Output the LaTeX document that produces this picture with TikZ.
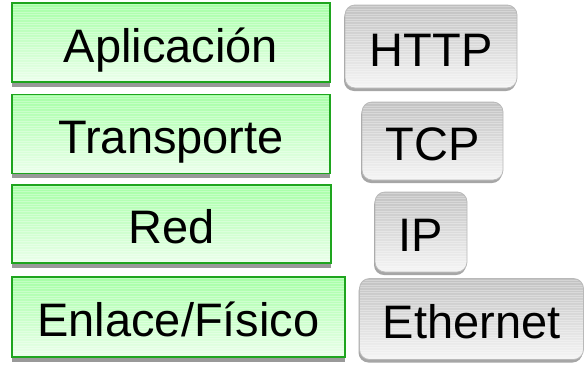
\documentclass[tikz,border=0pt]{standalone}
\usepackage{fontspec}
\setmainfont{Liberation Sans}
\usetikzlibrary{shadows}
\definecolor{layergreen}{RGB}{30,165,30}
\definecolor{protoedge}{RGB}{185,185,185}
\begin{document}
\begin{tikzpicture}[x=1pt,y=-1pt]
    \tikzstyle{stripes}=[path picture={\foreach \k in {1.5,4,...,90}
      \draw[white, opacity=0.3, line width=0.7pt] ([yshift=-\k pt]path picture bounding box.north west) -- ([yshift=-\k pt]path picture bounding box.north east);}]
    \tikzstyle{layer}=[draw=layergreen, line width=1.2pt, top color=green!35!white, bottom color=green!8!white, stripes,
      minimum height=79pt, inner sep=0pt, font=\fontsize{47}{50}\selectfont, text height=39pt, text depth=0pt,
      drop shadow={shadow xshift=0pt, shadow yshift=-4.5pt, fill=black!40, opacity=1}]
    \tikzstyle{proto}=[draw=protoedge, line width=0.8pt, rounded corners=10pt, top color=black!24, bottom color=black!4, stripes,
      minimum height=80pt, inner sep=0pt, font=\fontsize{47}{50}\selectfont, text height=39pt, text depth=0pt,
      drop shadow={shadow xshift=-1pt, shadow yshift=-3pt, fill=black!35, opacity=1}]
    \useasboundingbox (0,0) rectangle (585,365);
    \node[layer, minimum width=318pt] (app) at (171,42.5){Aplicación};
    \node[layer, minimum width=318pt] (tra) at (171,134){Transporte};
    \node[layer, minimum width=319pt, minimum height=78pt] (red) at (171.5,224){Red};
    \node[layer, minimum width=333pt, minimum height=80pt] (enl) at (178.5,317){Enlace/Físico};
    \node[proto, minimum width=172pt, minimum height=83pt] (http) at (431,46.5){HTTP};
    \node[proto, minimum width=141pt, minimum height=78pt] (tcp) at (432.5,141){TCP};
    \node[proto, minimum width=92pt] (ip) at (421,232){IP};
    \node[proto, minimum width=224pt, minimum height=81pt] (eth) at (471.5,319){Ethernet};
  \end{tikzpicture}
\end{document}
